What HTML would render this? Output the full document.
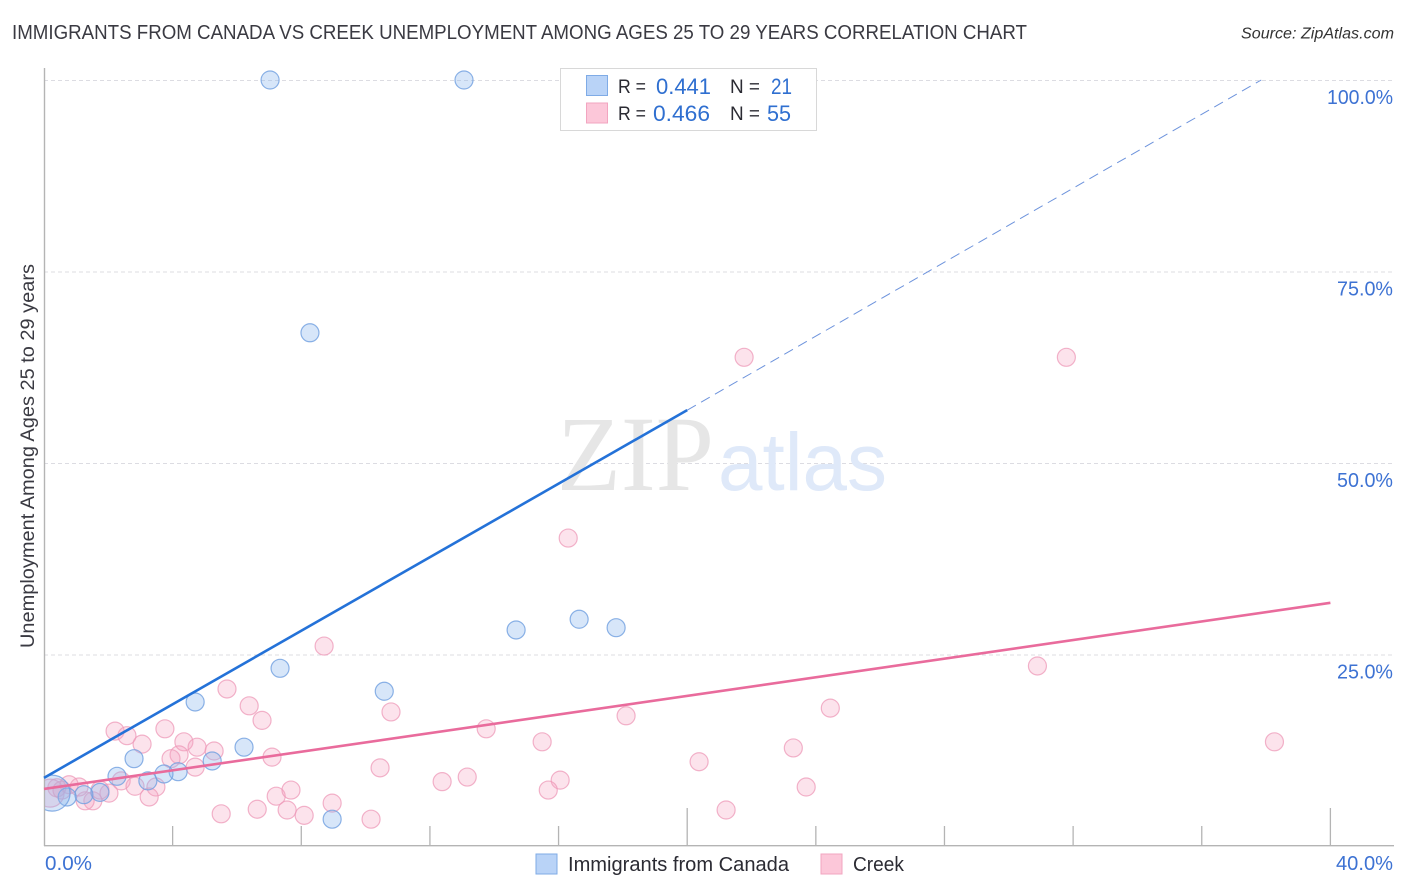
<!DOCTYPE html>
<html lang="en">
<head>
<meta charset="utf-8">
<title>Immigrants from Canada vs Creek Unemployment Correlation Chart</title>
<style>
html,body{margin:0;padding:0;background:#fff;width:1406px;height:892px;overflow:hidden}
svg{display:block;font-family:"Liberation Sans",sans-serif}
</style>
</head>
<body>
<svg id="chart" xmlns="http://www.w3.org/2000/svg" width="1406" height="892" viewBox="0 0 1406 892">
  <defs><clipPath id="plot-clip"><rect x="45" y="60" width="1350" height="785"/></clipPath></defs>
  <rect width="1406" height="892" fill="#fff"/>
  <text x="12" y="39" font-size="20" fill="#3a3a42" textLength="1015" lengthAdjust="spacingAndGlyphs">IMMIGRANTS FROM CANADA VS CREEK UNEMPLOYMENT AMONG AGES 25 TO 29 YEARS CORRELATION CHART</text>
  <text x="1241" y="38.5" font-size="15.5" font-style="italic" fill="#333" textLength="153" lengthAdjust="spacingAndGlyphs">Source: ZipAtlas.com</text>
  <g id="grid"></g>
  <g>
    <text x="557" y="490" font-family="'Liberation Serif',serif" font-size="107" fill="#e6e6e6" textLength="157" lengthAdjust="spacingAndGlyphs">ZIP</text>
    <text x="718" y="490" font-size="82" fill="#dfe9f9" textLength="169" lengthAdjust="spacingAndGlyphs">atlas</text>
  </g>
  <g id="axes"></g>
  <g id="marks-pink" clip-path="url(#plot-clip)"></g>
  <g id="marks-blue" clip-path="url(#plot-clip)"></g>
  <g id="lines"></g>
  <text transform="translate(34 648) rotate(-90)" font-size="19" fill="#3a3a42" textLength="384" lengthAdjust="spacingAndGlyphs">Unemployment Among Ages 25 to 29 years</text>
  <g id="ticklabels"></g>

  <g>
    <rect x="560.5" y="68.5" width="256" height="62" fill="#fff" stroke="#d8d8d8"/>
    <rect x="586.5" y="75.5" width="21" height="20" fill="#b9d3f7" stroke="#7fabe6"/>
    <rect x="586.5" y="103" width="21" height="20" fill="#fcc7d9" stroke="#f2a5c0"/>
    <text x="618" y="93" font-size="19" fill="#2b2b33" textLength="28" lengthAdjust="spacingAndGlyphs">R =</text>
    <text x="656" y="94" font-size="22" fill="#2f6fd0" textLength="55" lengthAdjust="spacingAndGlyphs">0.441</text>
    <text x="730" y="93" font-size="19" fill="#2b2b33" textLength="30" lengthAdjust="spacingAndGlyphs">N =</text>
    <text x="771" y="94" font-size="22" fill="#2f6fd0" textLength="21" lengthAdjust="spacingAndGlyphs">21</text>
    <text x="618" y="120" font-size="19" fill="#2b2b33" textLength="28" lengthAdjust="spacingAndGlyphs">R =</text>
    <text x="653" y="121" font-size="22" fill="#2f6fd0" textLength="57" lengthAdjust="spacingAndGlyphs">0.466</text>
    <text x="730" y="120" font-size="19" fill="#2b2b33" textLength="30" lengthAdjust="spacingAndGlyphs">N =</text>
    <text x="767" y="121" font-size="22" fill="#2f6fd0" textLength="24" lengthAdjust="spacingAndGlyphs">55</text>
  </g>

  <g>
    <rect x="536" y="854" width="21" height="20" fill="#b9d3f7" stroke="#7fabe6"/>
    <text x="568" y="871" font-size="20" fill="#2b2b33" textLength="221" lengthAdjust="spacingAndGlyphs">Immigrants from Canada</text>
    <rect x="821" y="854" width="21" height="20" fill="#fcc7d9" stroke="#f2a5c0"/>
    <text x="853" y="871" font-size="20" fill="#2b2b33" textLength="51" lengthAdjust="spacingAndGlyphs">Creek</text>
  </g>
</svg>
<script>
var canadaX = [7.03,13.06,8.27,14.68,16.64,17.79,7.34,10.58,4.70,6.22,2.80,5.23,2.27,4.17,3.73,3.23,1.74,1.24,0.72,0.25,8.96];
var canadaY = [100,100,67.0,28.2,29.6,28.5,23.2,20.2,18.8,12.9,11.4,11.1,9.1,9.7,9.4,8.5,7.0,6.7,6.4,6.9,3.5];
var canadaRadius = [9,9,9,9,9,9,9,9,9,9,9,9,9,9,9,9,9,9,9,18,9];
var creekX = [21.77,31.79,16.30,8.71,30.89,24.45,10.79,18.10,13.75,10.45,20.37,23.30,15.49,38.26,13.16,12.38,16.05,15.68,23.70,21.21,10.17,5.69,6.38,6.78,2.21,2.58,3.05,3.76,4.35,4.76,5.29,4.20,3.95,4.70,7.09,2.40,2.83,3.48,3.27,2.02,1.52,1.28,1.09,0.78,0.40,0.19,6.63,5.51,7.22,7.68,7.56,8.09,8.96,1.74,0.56];
var creekY = [63.8,63.8,40.2,26.1,23.5,18.0,17.5,17.0,15.3,10.2,11.0,12.8,13.6,13.6,9.0,8.4,8.6,7.3,7.7,4.7,3.5,20.5,18.3,16.4,15.0,14.4,13.3,15.3,13.6,12.9,12.4,11.9,11.4,10.3,11.6,8.5,7.8,7.7,6.4,6.9,5.9,5.9,7.7,8.0,7.6,6.9,4.8,4.2,6.5,7.3,4.7,4.0,5.6,7.3,7.3];
var creekRadius = [9,9,9,9,9,9,9,9,9,9,9,9,9,9,9,9,9,9,9,9,9,9,9,9,9,9,9,9,9,9,9,9,9,9,9,9,9,9,9,9,9,9,9,9,9,14,9,9,9,9,9,9,9,9,9];
var canadaTrendX = [0,20];
var canadaTrendY = [8.9,56.9];
var canadaForecastX = [20,37.85];
var canadaForecastY = [56.9,100];
var creekTrendX = [0,40];
var creekTrendY = [7.45,31.75];
var xTickValues = [0,4,8,12,16,20,24,28,32,36,40];
var xMajorTicks = [20,40];
var yGridValues = [25,50,75,100];
var xTickLabels = ['0.0%','40.0%'];
var yTickLabels = ['25.0%','50.0%','75.0%','100.0%'];

var NS = 'http://www.w3.org/2000/svg';
function xScale(v){ return 44 + v * 32.16; }
function yScale(v){ return 846 - v * 7.66; }
function make(tag, attrs, parent){
  var el = document.createElementNS(NS, tag);
  for (var k in attrs) el.setAttribute(k, attrs[k]);
  parent.appendChild(el);
  return el;
}
var grid = document.getElementById('grid');
var axes = document.getElementById('axes');
var labels = document.getElementById('ticklabels');
var pink = document.getElementById('marks-pink');
var blue = document.getElementById('marks-blue');
var lines = document.getElementById('lines');

yGridValues.forEach(function(v){
  var l = make('line', {x1:44, x2:1394, y1:yScale(v)+0.5, y2:yScale(v)+0.5, stroke:'#dcdce2', 'stroke-width':1, 'stroke-dasharray':'4 3'}, grid);
  
  
});

var yAxis = make('line', {x1:44.5, x2:44.5, y1:68, y2:846, stroke:'#b4b4b4', 'stroke-width':1.4}, axes);


var xAxis = make('line', {x1:44, x2:1394, y1:845.7, y2:845.7, stroke:'#b4b4b4', 'stroke-width':1.4}, axes);


xTickValues.forEach(function(v){
  if (v === 0) return;
  var top = xMajorTicks.indexOf(v) >= 0 ? 808 : 826;
  var t = make('line', {x1:xScale(v), x2:xScale(v), y1:top, y2:846, stroke:'#b4b4b4', 'stroke-width':1.3}, axes);
  
  
});

function addLabel(str, attrs){
  var t = make('text', attrs, labels);
  t.textContent = str;
  
  
}
yGridValues.forEach(function(v, i){
  var w = yTickLabels[i].length === 6 ? 66 : 56;
  addLabel(yTickLabels[i], {x:1393 - w, y:yScale(v)+24, 'font-size':20, fill:'#3d72d3', textLength:w, lengthAdjust:'spacingAndGlyphs'});
});
addLabel(xTickLabels[0], {x:45, y:870, 'font-size':20, fill:'#3d72d3', textLength:47, lengthAdjust:'spacingAndGlyphs'});
addLabel(xTickLabels[1], {x:1336, y:870, 'font-size':20, fill:'#3d72d3', textLength:57, lengthAdjust:'spacingAndGlyphs'});

creekX.forEach(function(v, i){
  var c = make('circle', {cx:xScale(v), cy:yScale(creekY[i]), r:creekRadius[i], fill:'#f5a3bf', 'fill-opacity':0.3, stroke:'#ee9ab8', 'stroke-width':1.2, 'stroke-opacity':0.75}, pink);
  
  
});
canadaX.forEach(function(v, i){
  var c = make('circle', {cx:xScale(v), cy:yScale(canadaY[i]), r:canadaRadius[i], fill:'#8db7ee', 'fill-opacity':0.35, stroke:'#6f9fe0', 'stroke-width':1.2, 'stroke-opacity':0.8}, blue);
  
  
});

var forecast = make('line', {x1:xScale(canadaForecastX[0]), y1:yScale(canadaForecastY[0]), x2:xScale(canadaForecastX[1]), y2:yScale(canadaForecastY[1]), stroke:'#6d93dc', 'stroke-width':1, 'stroke-dasharray':'10 6'}, lines);


var canadaLine = make('line', {x1:xScale(canadaTrendX[0]), y1:yScale(canadaTrendY[0]), x2:xScale(canadaTrendX[1]), y2:yScale(canadaTrendY[1]), stroke:'#2472d8', 'stroke-width':2.6}, lines);


var creekLine = make('line', {x1:xScale(creekTrendX[0]), y1:yScale(creekTrendY[0]), x2:xScale(creekTrendX[1]), y2:yScale(creekTrendY[1]), stroke:'#e96b9c', 'stroke-width':2.6}, lines);


</script>
</body>
</html>
